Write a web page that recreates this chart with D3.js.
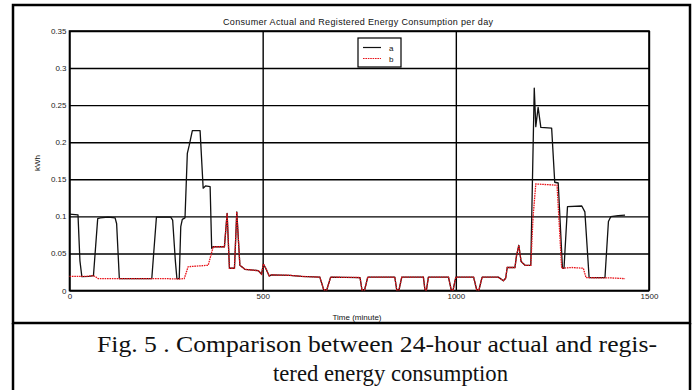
<!DOCTYPE html>
<html>
<head>
<meta charset="utf-8">
<script src="https://cdn.jsdelivr.net/npm/d3@7"></script>
<style>
  body { margin: 0; background: #fff; }
  svg { display: block; }
  .tick text { font-family: "Liberation Sans", Arial, sans-serif; font-size: 8px; fill: #222; }
</style>
</head>
<body>
<svg id="chart" width="696" height="390"></svg>
<script>
// tick labels
const xTicks = [0, 500, 1000, 1500];
const yTicks = [0, 0.05, 0.1, 0.15, 0.2, 0.25, 0.3, 0.35];

// stretch where both meters read the same (minute, kWh)
const sharedMinutes = [372, 401, 408, 414, 427, 433, 441, 454, 489, 497, 502, 508, 517, 523, 570, 601, 648, 658, 666, 676,
  752, 757, 764, 772, 842, 847, 853, 860, 916, 920, 924, 929, 981, 988, 993, 1000, 1046, 1054, 1060, 1068,
  1110, 1123, 1129, 1133, 1153, 1157, 1163, 1169, 1179, 1194];
const sharedKwh = [0.059, 0.059, 0.104, 0.030, 0.030, 0.106, 0.034, 0.0286, 0.0267, 0.022, 0.0357, 0.030, 0.0196, 0.021, 0.0205, 0.019, 0.018, 0.001, 0.001, 0.018,
  0.0175, 0.001, 0.001, 0.018, 0.018, 0.001, 0.001, 0.018, 0.018, 0.001, 0.001, 0.018, 0.018, 0.001, 0.001, 0.018, 0.018, 0.001, 0.001, 0.018,
  0.018, 0.0132, 0.0165, 0.031, 0.031, 0.0466, 0.061, 0.039, 0.034, 0.034];

// series a (actual)
const aMinutesStart = [0, 22, 27, 32, 50, 62, 73, 80, 100, 118, 122, 129, 213, 225, 262, 267, 274, 278, 284, 288, 292, 299,
  305, 310, 318, 338, 346, 352, 364, 368];
const aKwhStart = [0.103, 0.102, 0.04, 0.0186, 0.019, 0.02, 0.097, 0.098, 0.099, 0.098, 0.09, 0.016, 0.016, 0.099, 0.099, 0.095, 0.04, 0.016, 0.016, 0.086, 0.096, 0.098,
  0.185, 0.196, 0.2156, 0.2156, 0.138, 0.141, 0.14, 0.057];
const aMinutesEnd = [1203, 1207, 1213, 1220, 1248, 1256, 1265, 1276, 1280, 1289, 1326, 1334, 1345, 1386, 1395, 1401, 1420, 1438];
const aKwhEnd = [0.273, 0.221, 0.247, 0.220, 0.219, 0.146, 0.145, 0.030, 0.030, 0.113, 0.114, 0.106, 0.0173, 0.0173, 0.093, 0.0996, 0.101, 0.1018];

// series b (registered)
const bMinutesStart = [0, 20, 40, 55, 60, 66, 74, 150, 250, 283, 297, 307, 330, 359];
const bKwhStart = [0.019, 0.019, 0.019, 0.0195, 0.02, 0.019, 0.016, 0.016, 0.016, 0.0155, 0.016, 0.032, 0.033, 0.034];
const bMinutesEnd = [1200, 1207, 1262, 1274, 1300, 1330, 1337, 1400, 1438];
const bKwhEnd = [0.1, 0.1437, 0.142, 0.030, 0.031, 0.030, 0.0173, 0.017, 0.016];

const zip = (ms, vs) => ms.map((m, i) => ({ m: m, v: vs[i] }));
const seriesA = zip(aMinutesStart, aKwhStart).concat(zip(sharedMinutes, sharedKwh), zip(aMinutesEnd, aKwhEnd));
const seriesB = zip(bMinutesStart, bKwhStart).concat(zip(sharedMinutes, sharedKwh), zip(bMinutesEnd, bKwhEnd));

const svg = d3.select("#chart");
const plotLeft = 69.5, plotRight = 649, plotTop = 31, plotBottom = 290.5;

const x = d3.scaleLinear().domain([0, 1500]).range([plotLeft, plotRight]);
const y = d3.scaleLinear().domain([0, 0.35]).range([plotBottom, plotTop]);

// figure frame + caption box
svg.append("rect")
  .attr("x", 13).attr("y", 5).attr("width", 677).attr("height", 318)
  .attr("fill", "none").attr("stroke", "#000").attr("stroke-width", 2.5);
svg.append("line").attr("x1", 13).attr("x2", 13).attr("y1", 323).attr("y2", 392)
  .attr("stroke", "#000").attr("stroke-width", 2.5);
svg.append("line").attr("x1", 690).attr("x2", 690).attr("y1", 323).attr("y2", 392)
  .attr("stroke", "#000").attr("stroke-width", 2.5);

// y grid + labels
const yAxis = svg.append("g")
  .attr("transform", "translate(" + plotLeft + ",0)")
  .call(d3.axisLeft(y).tickValues(yTicks).tickSize(-(plotRight - plotLeft)).tickPadding(3)
    .tickFormat(d => d === 0 ? "0" : String(+d.toFixed(2))));
yAxis.select(".domain").remove();
yAxis.selectAll(".tick line").attr("stroke", "#000").attr("stroke-width", 1.4);

// x grid + labels
const xAxis = svg.append("g")
  .attr("transform", "translate(0," + plotBottom + ")")
  .call(d3.axisBottom(x).tickValues(xTicks).tickSize(-(plotBottom - plotTop)).tickPadding(4).tickFormat(d3.format("d")));
xAxis.select(".domain").remove();
xAxis.selectAll(".tick line").attr("stroke", "#000").attr("stroke-width", 1.4);
xAxis.selectAll(".tick text").attr("dy", "0.55em");

// plot frame
svg.append("rect")
  .attr("x", plotLeft).attr("y", plotTop).attr("width", plotRight - plotLeft).attr("height", plotBottom - plotTop)
  .attr("fill", "none").attr("stroke", "#000").attr("stroke-width", 1.6);

const line = d3.line().x(d => x(d.m)).y(d => y(d.v));

svg.append("path").datum(seriesA)
  .attr("d", line).attr("fill", "none")
  .attr("stroke", "#111").attr("stroke-width", 1.3).attr("stroke-linejoin", "round");

svg.append("path").datum(seriesB)
  .attr("d", line).attr("fill", "none")
  .attr("stroke", "#e8141b").attr("stroke-width", 1.3).attr("stroke-dasharray", "1.6,0.8");

// titles
svg.append("text")
  .attr("x", 358).attr("y", 25).attr("text-anchor", "middle")
  .attr("font-family", "Liberation Sans, Arial, sans-serif").attr("font-size", 9)
  .attr("textLength", 270).attr("fill", "#111")
  .text("Consumer Actual and Registered Energy Consumption per day");

svg.append("text")
  .attr("x", 357).attr("y", 320).attr("text-anchor", "middle")
  .attr("font-family", "Liberation Sans, Arial, sans-serif").attr("font-size", 8).attr("fill", "#111")
  .text("Time (minute)");

svg.append("text")
  .attr("transform", "translate(40,163) rotate(-90)").attr("text-anchor", "middle")
  .attr("font-family", "Liberation Sans, Arial, sans-serif").attr("font-size", 8).attr("fill", "#111")
  .text("kWh");

// legend
const lg = svg.append("g").attr("transform", "translate(358,38)");
lg.append("rect").attr("width", 43).attr("height", 29)
  .attr("fill", "#fff").attr("stroke", "#000").attr("stroke-width", 1.2);
lg.append("line").attr("x1", 5).attr("x2", 23).attr("y1", 9.5).attr("y2", 9.5)
  .attr("stroke", "#111").attr("stroke-width", 1.2);
lg.append("line").attr("x1", 5).attr("x2", 23).attr("y1", 20.5).attr("y2", 20.5)
  .attr("stroke", "#e8141b").attr("stroke-width", 1.2).attr("stroke-dasharray", "1.6,0.8");
lg.selectAll("text.lab").data(["a", "b"]).enter().append("text")
  .attr("class", "lab").attr("x", 31).attr("y", (d, i) => 12.5 + i * 11)
  .attr("font-family", "Liberation Sans, Arial, sans-serif").attr("font-size", 8).attr("fill", "#111")
  .text(d => d);

// caption
const cap = svg.append("g")
  .attr("font-family", "Liberation Serif, 'Times New Roman', serif").attr("font-size", 23).attr("fill", "#111");
cap.append("text").attr("x", 97).attr("y", 352).attr("textLength", 560).attr("lengthAdjust", "spacingAndGlyphs")
  .text("Fig. 5 . Comparison between 24-hour actual and regis-");
cap.append("text").attr("x", 273).attr("y", 381).attr("textLength", 235).attr("lengthAdjust", "spacingAndGlyphs")
  .text("tered energy consumption");
</script>
</body>
</html>
